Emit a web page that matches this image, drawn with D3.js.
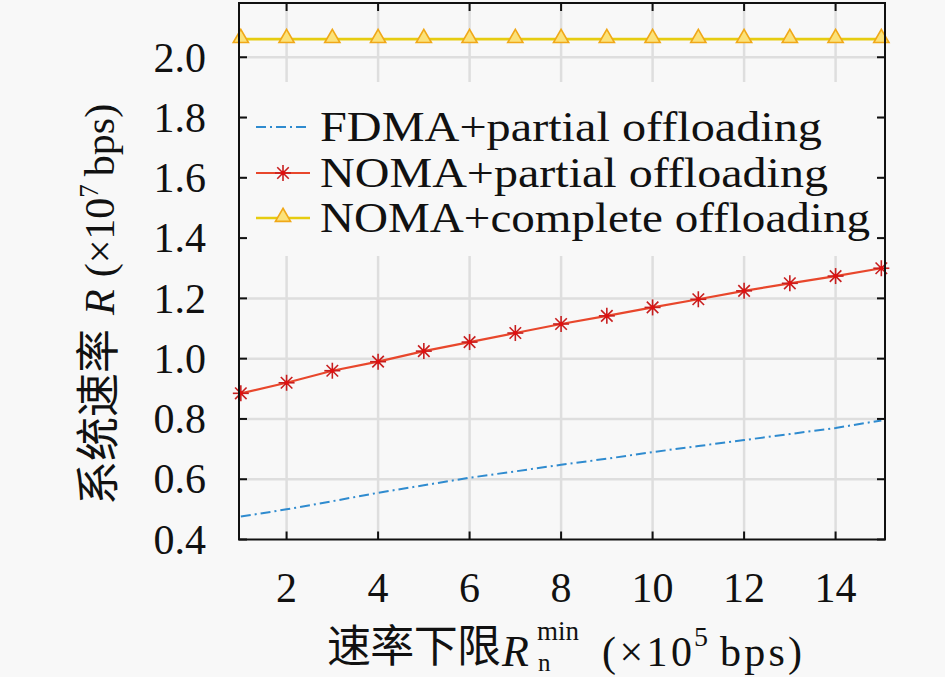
<!DOCTYPE html>
<html>
<head>
<meta charset="utf-8">
<script src="https://cdn.jsdelivr.net/npm/d3@7"></script>
<style>
  html, body { margin: 0; padding: 0; background: #f8f8f8; }
  #chart { width: 945px; height: 677px; }
  text { font-family: "Liberation Serif", serif; fill: #111; }
  .cjk { font-family: "Noto Sans CJK SC", sans-serif; }
</style>
</head>
<body>
<div id="chart"></div>
<script>
// system rate vs. minimum rate constraint

const xValues = [1, 2, 3, 4, 5, 6, 7, 8, 9, 10, 11, 12, 13, 14, 15];
const fdmaPartial = [0.476, 0.50, 0.527, 0.555, 0.58, 0.605, 0.626, 0.648, 0.668, 0.69, 0.71, 0.73, 0.75, 0.77, 0.795];
const nomaPartial = [0.885, 0.92, 0.96, 0.99, 1.025, 1.055, 1.085, 1.115, 1.142, 1.17, 1.197, 1.225, 1.25, 1.274, 1.30];
const nomaComplete = [2.06, 2.06, 2.06, 2.06, 2.06, 2.06, 2.06, 2.06, 2.06, 2.06, 2.06, 2.06, 2.06, 2.06, 2.06];

const xTicks = [2, 4, 6, 8, 10, 12, 14];
const yTicks = [0.4, 0.6, 0.8, 1.0, 1.2, 1.4, 1.6, 1.8, 2.0];
const legendLabels = [
  "FDMA+partial offloading",
  "NOMA+partial offloading",
  "NOMA+complete offloading"
];

(function () {
  const width = 945;
  const height = 677;
  const margin = { top: 3, right: 60, bottom: 137.5, left: 239 };

  const svg = d3.select("#chart")
    .append("svg")
    .attr("width", width)
    .attr("height", height);

  svg.append("rect")
    .attr("width", width)
    .attr("height", height)
    .attr("fill", "#f8f8f8");

  const x = d3.scaleLinear()
    .domain([0.96, 15.08])
    .range([margin.left, width - margin.right]);

  const y = d3.scaleLinear()
    .domain([0.4, 2.18])
    .range([height - margin.bottom, margin.top]);

  const x0 = x.range()[0], x1 = x.range()[1];
  const y0 = y.range()[0], y1 = y.range()[1];

  // grid
  const grid = svg.append("g").attr("stroke", "#dedede").attr("stroke-width", 2.5);
  xTicks.forEach(t => {
    grid.append("line")
      .attr("x1", x(t)).attr("x2", x(t))
      .attr("y1", y1).attr("y2", y0);
  });
  yTicks.slice(1).forEach(t => {
    grid.append("line")
      .attr("x1", x0).attr("x2", x1)
      .attr("y1", y(t)).attr("y2", y(t));
  });

  const line = d3.line()
    .x((d, i) => x(xValues[i]))
    .y(d => y(d));

  // FDMA + partial
  svg.append("path")
    .datum(fdmaPartial)
    .attr("fill", "none")
    .attr("stroke", "#2f8bcf")
    .attr("stroke-width", 2)
    .attr("stroke-dasharray", "10,4,2,4")
    .attr("d", line);

  // NOMA + partial
  svg.append("path")
    .datum(nomaPartial)
    .attr("fill", "none")
    .attr("stroke", "#e8472c")
    .attr("stroke-width", 2.2)
    .attr("d", line);

  function asterisk(g, cx, cy, r) {
    const a = r * 0.72;
    const segs = [[-r, 0, r, 0], [0, -r, 0, r], [-a, -a, a, a], [-a, a, a, -a]];
    segs.forEach(s => {
      g.append("line")
        .attr("x1", cx + s[0]).attr("y1", cy + s[1])
        .attr("x2", cx + s[2]).attr("y2", cy + s[3])
        .attr("stroke", "#c81e1e")
        .attr("stroke-width", 1.6);
    });
    g.append("circle")
      .attr("cx", cx).attr("cy", cy).attr("r", 2.2)
      .attr("fill", "#e01010");
  }

  const starG = svg.append("g");
  nomaPartial.forEach((v, i) => asterisk(starG, x(xValues[i]), y(v), 8));

  // NOMA + complete
  svg.append("path")
    .datum(nomaComplete)
    .attr("fill", "none")
    .attr("stroke", "#e6cc10")
    .attr("stroke-width", 2.6)
    .attr("d", line);

  const tri = d3.symbol().type(d3.symbolTriangle).size(100);
  svg.append("g")
    .selectAll("path")
    .data(nomaComplete)
    .join("path")
    .attr("transform", (d, i) => `translate(${x(xValues[i])},${y(d) - 1})`)
    .attr("d", tri)
    .attr("fill", "#fbe27a")
    .attr("stroke", "#f0a818")
    .attr("stroke-width", 1.6);

  // legend
  const legend = svg.append("g");
  legend.append("rect")
    .attr("x", 246).attr("y", 82)
    .attr("width", 632).attr("height", 174)
    .attr("fill", "#f8f8f8");

  const legendRows = [141, 187, 232];
  const legendWidths = [502, 508, 550];
  legendRows.forEach((base, i) => {
    const ly = base - 14;
    const l = legend.append("line")
      .attr("x1", 256).attr("x2", 310)
      .attr("y1", ly).attr("y2", ly)
      .attr("fill", "none");
    if (i === 0) {
      l.attr("stroke", "#2f8bcf").attr("stroke-width", 2).attr("stroke-dasharray", "10,4,2,4");
    } else if (i === 1) {
      l.attr("stroke", "#e8472c").attr("stroke-width", 2.2);
      asterisk(legend, 283, ly, 8);
    } else {
      l.attr("stroke", "#e6cc10").attr("stroke-width", 2.6);
      legend.append("path")
        .attr("transform", `translate(283,${ly - 1})`)
        .attr("d", tri)
        .attr("fill", "#fbe27a")
        .attr("stroke", "#f0a818")
        .attr("stroke-width", 1.6);
    }
    legend.append("text")
      .attr("x", 320)
      .attr("y", base)
      .attr("textLength", legendWidths[i])
      .attr("lengthAdjust", "spacingAndGlyphs")
      .style("font-size", "43px")
      .text(legendLabels[i]);
  });

  // frame + ticks
  const axes = svg.append("g").attr("stroke", "#111").attr("stroke-width", 2);
  axes.append("rect")
    .attr("x", x0).attr("y", y1)
    .attr("width", x1 - x0).attr("height", y0 - y1)
    .attr("fill", "none");
  xTicks.forEach(t => {
    axes.append("line").attr("x1", x(t)).attr("x2", x(t)).attr("y1", y0).attr("y2", y0 - 8);
    axes.append("line").attr("x1", x(t)).attr("x2", x(t)).attr("y1", y1).attr("y2", y1 + 8);
  });
  yTicks.forEach(t => {
    axes.append("line").attr("x1", x0).attr("x2", x0 + 8).attr("y1", y(t)).attr("y2", y(t));
    axes.append("line").attr("x1", x1).attr("x2", x1 - 8).attr("y1", y(t)).attr("y2", y(t));
  });

  // tick labels
  svg.append("g")
    .selectAll("text")
    .data(xTicks)
    .join("text")
    .attr("x", d => x(d))
    .attr("y", 602)
    .attr("text-anchor", "middle")
    .style("font-size", "42px")
    .text(d => d);

  svg.append("g")
    .selectAll("text")
    .data(yTicks)
    .join("text")
    .attr("x", 206)
    .attr("y", d => y(d))
    .attr("dy", "0.34em")
    .attr("text-anchor", "end")
    .style("font-size", "42px")
    .text(d => d.toFixed(1));

  // x axis label
  const xLab = svg.append("g");
  xLab.append("text").attr("class", "cjk")
    .attr("x", 327).attr("y", 662)
    .attr("textLength", 174)
    .style("font-size", "44px")
    .text("速率下限");
  xLab.append("text")
    .attr("x", 502).attr("y", 666)
    .style("font-size", "44px").style("font-style", "italic")
    .text("R");
  xLab.append("text")
    .attr("x", 537).attr("y", 640)
    .style("font-size", "27px")
    .text("min");
  xLab.append("text")
    .attr("x", 538).attr("y", 671)
    .style("font-size", "25px")
    .text("n");
  xLab.append("text")
    .attr("x", 602).attr("y", 666)
    .attr("textLength", 90)
    .style("font-size", "42px")
    .text("(×10");
  xLab.append("text")
    .attr("x", 694).attr("y", 646)
    .style("font-size", "28px")
    .text("5");
  xLab.append("text")
    .attr("x", 720).attr("y", 666)
    .attr("textLength", 82)
    .style("font-size", "42px")
    .text("bps)");

  // y axis label
  const yl = svg.append("text")
    .attr("transform", "translate(114,505) rotate(-90)")
    .style("font-size", "42px");
  yl.append("tspan").attr("class", "cjk").style("font-size", "44px").text("系统速率");
  yl.append("tspan").style("font-style", "italic").attr("dx", 14).text("R");
  yl.append("tspan").attr("dx", 12).text("(×10");
  yl.append("tspan").style("font-size", "27px").attr("dy", -16).text("7");
  yl.append("tspan").attr("dy", 16).attr("dx", 8).text("bps)");
})();
</script>
</body>
</html>
